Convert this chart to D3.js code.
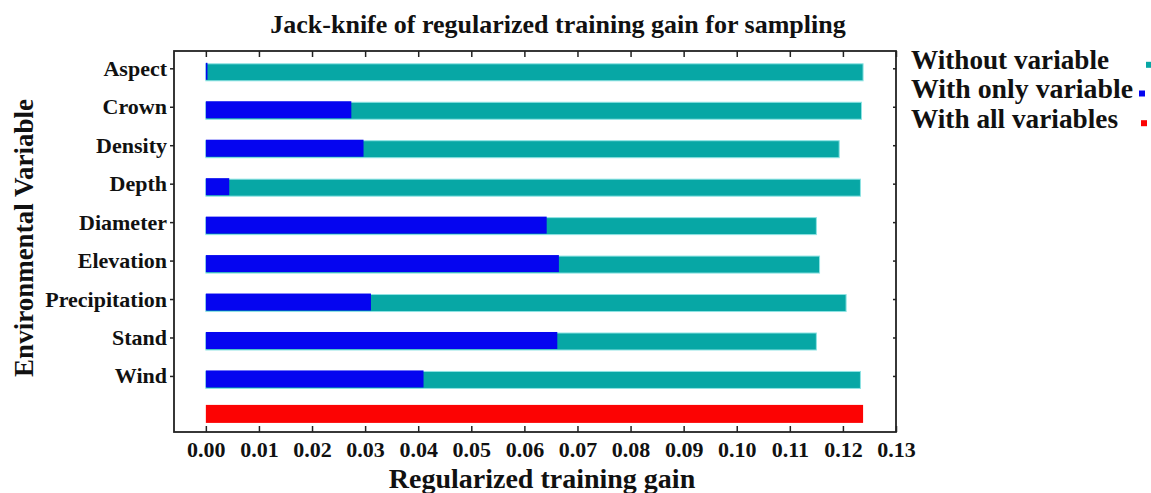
<!DOCTYPE html>
<html><head><meta charset="utf-8">
<script src="https://cdn.jsdelivr.net/npm/d3@7"></script>
<style>
html,body{margin:0;padding:0;background:#fff;}
svg text{font-family:"Liberation Serif","Times New Roman",serif;font-weight:bold;fill:#111;}
</style></head>
<body><svg id="chart" width="1151" height="493"></svg>
<script>
const categories = ["Aspect","Crown","Density","Depth","Diameter","Elevation","Precipitation","Stand","Wind"];
const withoutVariable = [0.1238,0.1235,0.1193,0.1233,0.1150,0.1156,0.1206,0.1150,0.1233];
const withOnlyVariable = [0.0003,0.0274,0.0297,0.0044,0.0642,0.0665,0.0311,0.0662,0.0410];
const withAllVariables = 0.1238;
const xTicks = [0,0.01,0.02,0.03,0.04,0.05,0.06,0.07,0.08,0.09,0.10,0.11,0.12,0.13];
const legendItems = ["Without variable","With only variable","With all variables"];
const colors = {without:"#07a7a5", only:"#0505f0", all:"#fc0303"};

const svg = d3.select("#chart");
const L=174, R=896, T=51, B=432;
const x = d3.scaleLinear().domain([-0.006,0.13]).range([L,R]);
const rows = categories.concat(["__all"]);
const y = d3.scalePoint().domain(rows).range([68.3, 414.4]);
const bh = 18, off = 3.5;

// bars: without variable (teal)
svg.append("g").selectAll("rect").data(categories).join("rect")
  .attr("x", x(0)).attr("y", (d)=>y(d)+off-bh/2+1)
  .attr("width", (d,i)=>x(withoutVariable[i])-x(0)).attr("height", bh-1)
  .attr("fill", colors.without).attr("stroke","#8ee3e3").attr("stroke-width",1);
// with only variable (blue)
svg.append("g").selectAll("rect").data(categories).join("rect")
  .attr("x", x(0)).attr("y", (d)=>y(d)+off-bh/2)
  .attr("width", (d,i)=>Math.max(1,x(withOnlyVariable[i])-x(0))).attr("height", bh-1)
  .attr("fill", colors.only);
// with all variables (red)
svg.append("rect").attr("x", x(0)).attr("y", y("__all")-0.5-bh/2)
  .attr("width", x(withAllVariables)-x(0)).attr("height", bh).attr("fill", colors.all);

// frame
svg.append("rect").attr("x",L).attr("y",T).attr("width",R-L).attr("height",B-T)
  .attr("fill","none").attr("stroke","#222").attr("stroke-width",1.8);

// bottom axis (inward ticks)
const xb = svg.append("g").attr("transform",`translate(0,${B})`)
  .call(d3.axisBottom(x).tickValues(xTicks).tickFormat(d3.format(".2f")).tickSizeInner(-6).tickSizeOuter(0).tickPadding(9));
xb.select(".domain").remove();
xb.selectAll("line").attr("stroke","#222").attr("stroke-width",1.5);
xb.selectAll("text").attr("font-size","22px").attr("fill","#111")
  .attr("font-family","Liberation Serif, serif").attr("font-weight","bold");
// top axis ticks
const xt = svg.append("g").attr("transform",`translate(0,${T})`)
  .call(d3.axisTop(x).tickValues(xTicks).tickFormat("").tickSizeInner(-6).tickSizeOuter(0));
xt.select(".domain").remove();
xt.selectAll("line").attr("stroke","#222").attr("stroke-width",1.5);

// left axis
const yl = svg.append("g").attr("transform",`translate(${L},0)`)
  .call(d3.axisLeft(y).tickValues(categories).tickSizeInner(4).tickSizeOuter(0).tickPadding(3));
yl.select(".domain").remove();
yl.selectAll("line").attr("stroke","#222").attr("stroke-width",1.5);
yl.selectAll("text").attr("font-size","22px").attr("fill","#111")
  .attr("font-family","Liberation Serif, serif").attr("font-weight","bold");
// right axis ticks
const yr = svg.append("g").attr("transform",`translate(${R},0)`)
  .call(d3.axisRight(y).tickValues(categories).tickFormat("").tickSizeInner(-3).tickSizeOuter(0));
yr.select(".domain").remove();
yr.selectAll("line").attr("stroke","#222").attr("stroke-width",1.5);

// title
svg.append("text").attr("x",558).attr("y",33).attr("text-anchor","middle")
  .attr("font-size","26px").text("Jack-knife of regularized training gain for sampling");
// x axis title
svg.append("text").attr("x",542).attr("y",488).attr("text-anchor","middle")
  .attr("font-size","28px").text("Regularized training gain");
// y axis title
svg.append("text").attr("transform","translate(33,238) rotate(-90)").attr("text-anchor","middle")
  .attr("font-size","27px").text("Environmental Variable");

// legend
const lg = svg.append("g");
const legendColors = [colors.without, colors.only, colors.all];
const lBase = [69.3, 98, 127.7];
const lWidths = [198, 222, 207];
const mX = [1146, 1139, 1141];
legendItems.forEach((t,i)=>{
  lg.append("text").attr("x",911).attr("y",lBase[i]).attr("font-size","28px")
    .attr("textLength",lWidths[i]).attr("lengthAdjust","spacingAndGlyphs").text(t);
  lg.append("rect").attr("x",mX[i]).attr("y",lBase[i]-7.5).attr("width",6).attr("height",6)
    .attr("fill",legendColors[i]);
});
</script></body></html>
